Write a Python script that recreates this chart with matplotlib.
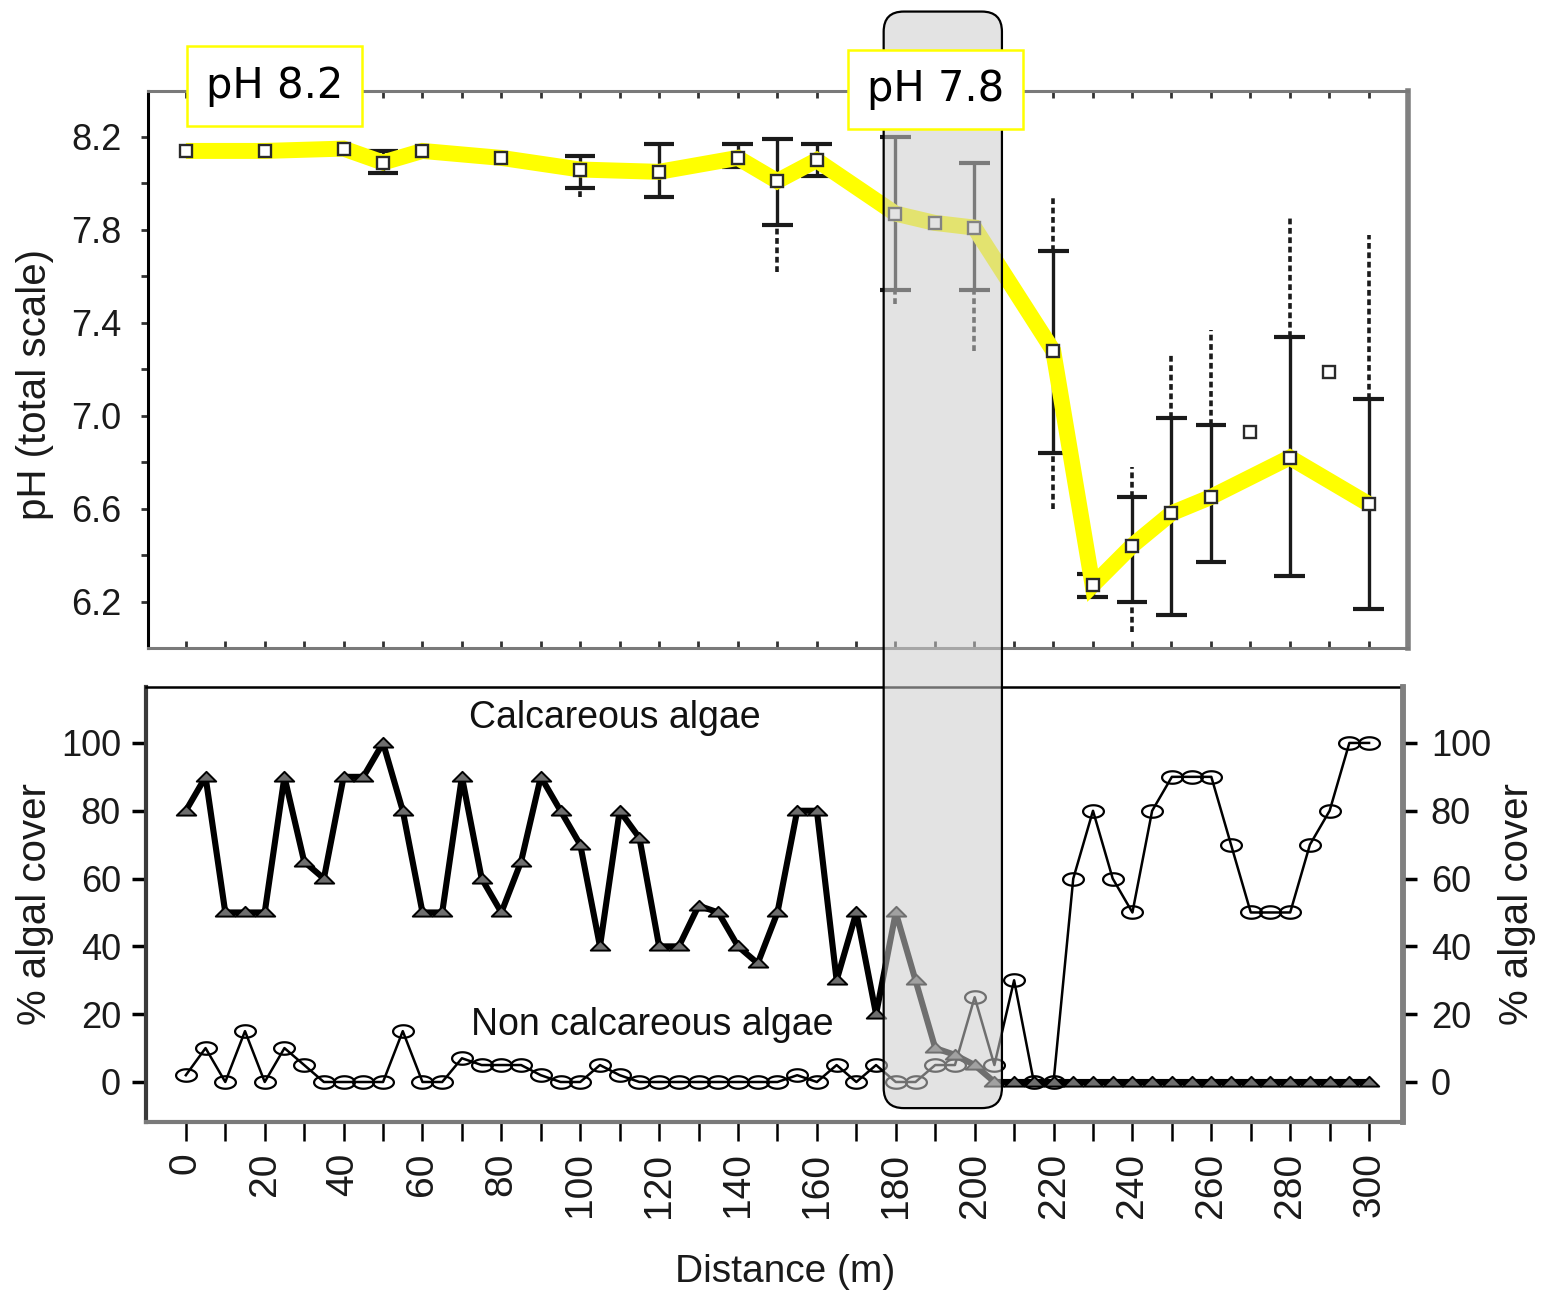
import numpy as np
import matplotlib
matplotlib.use("Agg")
import matplotlib.pyplot as plt
from matplotlib.patches import FancyBboxPatch
from matplotlib.path import Path

nan = np.nan

# ---------------- pH transect (top panel) ----------------
ph_dist = [0, 20, 40, 50, 60, 80, 100, 120, 140, 150, 160, 180, 190, 200,
           220, 230, 240, 250, 260, 280, 300]
ph_mean = [8.14, 8.14, 8.15, 8.09, 8.14, 8.11, 8.06, 8.05, 8.11, 8.01, 8.10,
           7.87, 7.83, 7.81, 7.28, 6.27, 6.44, 6.58, 6.65, 6.82, 6.62]
ph_extra_dist = [270, 290]
ph_extra_mean = [6.93, 7.19]

err_dist = [50, 100, 120, 140, 150, 160, 180, 200, 220, 230, 240, 250, 260, 280, 300]
err_hi = [8.14, 8.12, 8.17, 8.17, 8.19, 8.17, 8.20, 8.09, 7.71, 6.32, 6.65, 6.99, 6.96, 7.34, 7.07]
err_lo = [8.045, 7.98, 7.94, 8.07, 7.82, 8.03, 7.54, 7.54, 6.84, 6.22, 6.20, 6.14, 6.37, 6.31, 6.17]
range_hi = [nan, nan, nan, nan, nan, nan, nan, nan, 7.94, nan, 6.78, 7.27, 7.37, 7.86, 7.78]
range_lo = [nan, 7.94, nan, nan, 7.62, nan, 7.48, 7.28, 6.60, nan, 6.07, nan, nan, nan, nan]

# ---------------- algal cover (bottom panel) ----------------
algae_dist = list(range(0, 305, 5))
calcareous = [80, 90, 50, 50, 50, 90, 65, 60, 90, 90, 100, 80, 50, 50,
              90, 60, 50, 65, 90, 80, 70, 40, 80, 72,
              40, 40, 52, 50, 40, 35, 50, 80, 80, 30,
              50, 20, 50, 30, 10, 8, 5, 0, 0, 0,
              0, 0, 0, 0, 0, 0, 0, 0, 0, 0,
              0, 0, 0, 0, 0, 0, 0]
non_calcareous = [2, 10, 0, 15, 0, 10, 5, 0, 0, 0, 0, 15, 0, 0,
                  7, 5, 5, 5, 2, 0, 0, 5, 2, 0,
                  0, 0, 0, 0, 0, 0, 0, 2, 0, 5,
                  0, 5, 0, 0, 5, 5, 25, 5, 30, 0,
                  0, 60, 80, 60, 50, 80, 90, 90, 90, 70,
                  50, 50, 50, 70, 80, 100, 100]

ph_ticks = [6.2, 6.6, 7.0, 7.4, 7.8, 8.2]
cover_ticks = [0, 20, 40, 60, 80, 100]
dist_ticks = list(range(0, 301, 20))

shade_start, shade_end = 177, 207   # distance (m) of the transition zone box

plt.rcParams['font.family'] = ['Liberation Sans', 'DejaVu Sans']

W, H = 1545, 1298
fig = plt.figure(figsize=(W / 100, H / 100), dpi=100)

ax_top = fig.add_axes([148 / W, 1 - 648 / H, (1408 - 148) / W, (648 - 91) / H])
ax_bot = fig.add_axes([146 / W, 1 - 1122 / H, (1403 - 146) / W, (1122 - 687) / H])

# ---------- top panel ----------
ax_top.set_xlim(-9.6, 310.0)
ax_top.set_ylim(6.0, 8.398)

eb_color = '#1a1a1a'
hi = np.array(err_hi); lo = np.array(err_lo)
ax_top.vlines(err_dist, lo, hi, color=eb_color, lw=2.4, zorder=2)
ax_top.hlines(hi, np.array(err_dist) - 3.9, np.array(err_dist) + 3.9, color=eb_color, lw=3, zorder=2)
ax_top.hlines(lo, np.array(err_dist) - 3.9, np.array(err_dist) + 3.9, color=eb_color, lw=3, zorder=2)
rh = np.array(range_hi); rl = np.array(range_lo)
m = ~np.isnan(rh)
ax_top.vlines(np.array(err_dist)[m], hi[m], rh[m], color=eb_color, lw=2.6,
              linestyles=(0, (1.6, 1.0)), zorder=2)
m = ~np.isnan(rl)
ax_top.vlines(np.array(err_dist)[m], rl[m], lo[m], color=eb_color, lw=2.6,
              linestyles=(0, (1.6, 1.0)), zorder=2)

ax_top.plot(ph_dist, ph_mean, color='#ffff00', lw=11.5, solid_joinstyle='miter',
            solid_capstyle='butt', zorder=3)
ax_top.plot(ph_dist, ph_mean, ls='none', marker='s', ms=9, mfc='white',
            mec='#2a2a2a', mew=1.7, zorder=4)
ax_top.plot(ph_extra_dist, ph_extra_mean, ls='none', marker='s', ms=9, mfc='white',
            mec='#2a2a2a', mew=1.7, zorder=4)

ax_top.set_yticks(ph_ticks)
ax_top.set_yticks([6.4, 6.8, 7.2, 7.6, 8.0], minor=True)
ax_top.set_yticklabels([f"{v:.1f}" for v in ph_ticks])
ax_top.tick_params(axis='y', which='both', direction='out', length=5, width=2,
                   labelsize=26, pad=14, labelcolor='#1a1a1a', color='#333333')
ax_top.set_xticks(range(0, 301, 10))
ax_top.tick_params(axis='x', which='both', direction='in', top=True, bottom=True,
                   labelbottom=False, length=5, width=2, color='#333333')
ax_top.spines['left'].set_color('black'); ax_top.spines['left'].set_linewidth(2.2)
ax_top.spines['top'].set_color('#7a7a7a'); ax_top.spines['top'].set_linewidth(2.2)
ax_top.spines['bottom'].set_color('#7a7a7a'); ax_top.spines['bottom'].set_linewidth(2.2)
ax_top.spines['right'].set_color('#808080'); ax_top.spines['right'].set_linewidth(4)
ax_top.set_ylabel('pH (total scale)', fontsize=29, va='center', color='#1a1a1a')
ax_top.yaxis.set_label_coords((35 - 148) / 1260, (648 - 385) / 557)

# ---------- bottom panel ----------
ax_bot.set_xlim(-10.1, 308.6)
ax_bot.set_ylim(-11.8, 116.5)

tri = Path([(-1, -0.42), (1, -0.42), (0, 0.58), (-1, -0.42)], closed=True)
th = np.linspace(0, 2 * np.pi, 41)
ell = Path(np.column_stack([np.cos(th), 0.6 * np.sin(th)]), closed=True)

ax_bot.plot(algae_dist, non_calcareous, color='black', lw=1.8, marker=ell, ms=15,
            mfc='none', mec='black', mew=1.6, zorder=2)
ax_bot.plot(algae_dist, calcareous, color='black', lw=4.4, marker=tri, ms=14,
            mfc='#6e6e6e', mec='black', mew=1.4, zorder=3)

ax_bot.text(108.8, 107.4, 'Calcareous algae', fontsize=27, ha='center', va='center', color='#111111')
ax_bot.text(118.2, 16.8, 'Non calcareous algae', fontsize=27, ha='center', va='center', color='#111111')

ax_bot.set_yticks(cover_ticks)
ax_bot.tick_params(axis='y', direction='out', length=10, width=2.5, labelsize=26, pad=8,
                   labelcolor='#1a1a1a')
ax_bot.set_xticks(dist_ticks)
ax_bot.set_xticks(range(10, 301, 20), minor=True)
ax_bot.tick_params(axis='x', which='both', direction='out', length=14, width=1.8,
                   labelsize=28, labelrotation=90, pad=8, labelcolor='#1a1a1a')
ax_bot.spines['left'].set_color('#3a3a3a'); ax_bot.spines['left'].set_linewidth(3)
ax_bot.spines['top'].set_color('black'); ax_bot.spines['top'].set_linewidth(1.8)
ax_bot.spines['bottom'].set_color('#7a7a7a'); ax_bot.spines['bottom'].set_linewidth(3)
ax_bot.spines['right'].set_color('#808080'); ax_bot.spines['right'].set_linewidth(4)
ax_bot.set_ylabel('% algal cover', fontsize=29, va='center', color='#1a1a1a')
ax_bot.yaxis.set_label_coords((35 - 146) / 1257, 0.5)
ax_bot.set_xlabel('Distance (m)', fontsize=28, va='center', color='#1a1a1a')
ax_bot.xaxis.set_label_coords((785 - 146) / 1257, (1122 - 1272) / 435)

ax_r = ax_bot.twinx()
ax_r.set_ylim(ax_bot.get_ylim())
ax_r.set_yticks(cover_ticks)
ax_r.tick_params(axis='y', direction='out', length=10, width=2.5, labelsize=26, pad=10,
                 labelcolor='#1a1a1a')
for s in ['left', 'top', 'bottom']:
    ax_r.spines[s].set_visible(False)
ax_r.spines['right'].set_color('#808080'); ax_r.spines['right'].set_linewidth(4)
ax_r.set_ylabel('% algal cover', fontsize=29, va='center', color='#1a1a1a', rotation=90)
ax_r.yaxis.set_label_coords((1517 - 146) / 1257, 0.5)

# ---------- transition zone box spanning both panels ----------
inv = fig.transFigure.inverted()
x0 = ax_top.transData.transform((shade_start, 8.0))[0]
x1 = ax_top.transData.transform((shade_end, 8.0))[0]
yt = ax_top.transData.transform((0, 8.74))[1]
yb = ax_bot.transData.transform((0, -7.7))[1]
fx0, fyb = inv.transform((x0, yb))
fx1, fyt = inv.transform((x1, yt))
box = FancyBboxPatch((fx0, fyb), fx1 - fx0, fyt - fyb,
                     boxstyle='round,pad=0,rounding_size=0.013',
                     mutation_aspect=W / H, transform=fig.transFigure,
                     facecolor=(0.80, 0.80, 0.80, 0.55), edgecolor='black',
                     lw=1.6, zorder=3)
fig.patches.append(box)

# ---------- pH labels ----------
for xm, yp, s in [(22.4, 8.42, 'pH 8.2'), (190.2, 8.405, 'pH 7.8')]:
    fig.text(xm, yp, s, transform=ax_top.transData, ha='center', va='center',
             fontsize=30, family='DejaVu Sans', color='black', zorder=6,
             bbox=dict(boxstyle='square,pad=0.45', fc='white', ec='#ffff00', lw=1.8))

fig.savefig('out.png', dpi=100)
